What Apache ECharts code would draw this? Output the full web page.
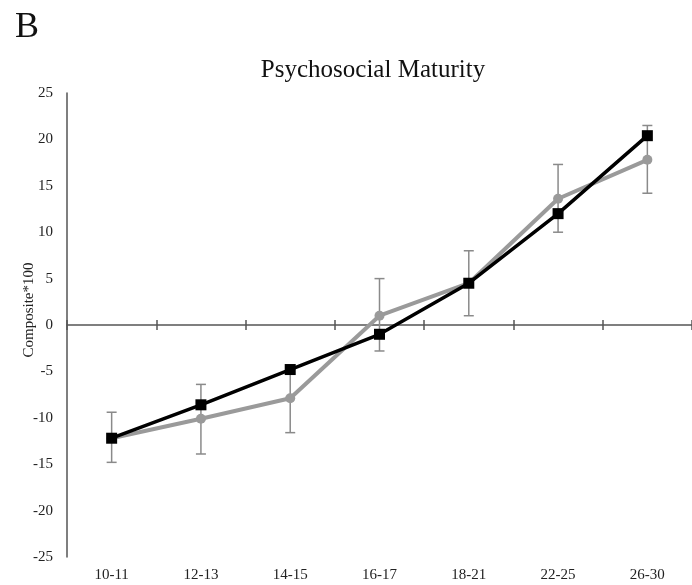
<!DOCTYPE html>
<html>
<head>
<meta charset="utf-8">
<script src="https://cdn.jsdelivr.net/npm/echarts@6/dist/echarts.min.js"></script>
<style>html,body{margin:0;padding:0;background:#fff}#c{width:692px;height:585px}</style>
</head>
<body>
<div id="c"></div>
<script>
var categories = ['10-11', '12-13', '14-15', '16-17', '18-21', '22-25', '26-30'];
var blackValues = [-12.2, -8.6, -4.8, -1.0, 4.5, 12.0, 20.4];
var grayValues = [-12.2, -10.1, -7.9, 1.0, 4.5, 13.6, 17.8];
var errLow = [-14.8, -13.9, -11.6, -2.8, 1.0, 10.0, 14.2];
var errHigh = [-9.4, -6.4, -4.3, 5.0, 8.0, 17.3, 21.5];
var yTicks = [-25, -20, -15, -10, -5, 0, 5, 10, 15, 20, 25];

var errData = categories.map(function (c, i) { return [i, errLow[i], errHigh[i]]; });
var serif = '"Liberation Serif", "Times New Roman", serif';

var chart = echarts.init(document.getElementById('c'));
chart.setOption({
  animation: false,
  backgroundColor: '#fff',
  title: [
    { text: 'B', left: 10, top: 5, textStyle: { fontFamily: serif, fontSize: 36, fontWeight: 'normal', color: '#111' } },
    { text: 'Psychosocial Maturity', left: 368, top: 53, textAlign: 'center', textStyle: { fontFamily: serif, fontSize: 25, fontWeight: 'normal', color: '#111' } }
  ],
  grid: { left: 67, top: 93, width: 628, height: 464, containLabel: false },
  xAxis: [
    { type: 'category', data: categories, position: 'bottom', axisLine: { show: false, onZero: false }, axisTick: { show: false },
      axisLabel: { fontFamily: serif, fontSize: 15, color: '#222', margin: 11 } },
    { type: 'category', data: categories, position: 'bottom', axisLine: { show: true, onZero: true, onZeroAxisIndex: 0, lineStyle: { color: '#555', width: 1.5 } },
      axisTick: { show: true, length: 5, lineStyle: { color: '#555', width: 1.5 } }, axisLabel: { show: false } },
    { type: 'category', data: categories, position: 'bottom', axisLine: { show: false, onZero: true, onZeroAxisIndex: 0 },
      axisTick: { show: true, inside: true, length: 5, lineStyle: { color: '#555', width: 1.5 } }, axisLabel: { show: false } }
  ],
  yAxis: {
    type: 'value', min: yTicks[0], max: yTicks[yTicks.length - 1], interval: 5,
    name: 'Composite*100', nameLocation: 'middle', nameGap: 30, nameRotate: 90, nameMoveOverlap: false,
    nameTextStyle: { fontFamily: serif, fontSize: 15, color: '#222', padding: [0, 0, 0, 30] },
    axisLine: { show: true, lineStyle: { color: '#555', width: 1.5 } },
    axisTick: { show: false },
    splitLine: { show: false },
    axisLabel: { fontFamily: serif, fontSize: 15, color: '#222', margin: 14 }
  },
  series: [
    {
      type: 'custom', xAxisIndex: 0, data: errData, z: 1,
      renderItem: function (params, api) {
        var top = api.coord([api.value(0), api.value(2)]);
        var bot = api.coord([api.value(0), api.value(1)]);
        var st = { stroke: '#8a8a8a', lineWidth: 1.5 };
        var w = 5;
        return { type: 'group', children: [
          { type: 'line', shape: { x1: top[0], y1: top[1], x2: bot[0], y2: bot[1] }, style: st },
          { type: 'line', shape: { x1: top[0] - w, y1: top[1], x2: top[0] + w, y2: top[1] }, style: st },
          { type: 'line', shape: { x1: bot[0] - w, y1: bot[1], x2: bot[0] + w, y2: bot[1] }, style: st }
        ] };
      }
    },
    {
      type: 'line', name: 'gray', xAxisIndex: 0, data: grayValues, z: 2,
      symbol: 'circle', symbolSize: 10,
      lineStyle: { color: '#9a9a9a', width: 4 }, itemStyle: { color: '#9a9a9a' }
    },
    {
      type: 'line', name: 'black', xAxisIndex: 0, data: blackValues, z: 3,
      symbol: 'rect', symbolSize: 11,
      lineStyle: { color: '#000', width: 3.5 }, itemStyle: { color: '#000' }
    }
  ]
});
</script>
</body>
</html>
